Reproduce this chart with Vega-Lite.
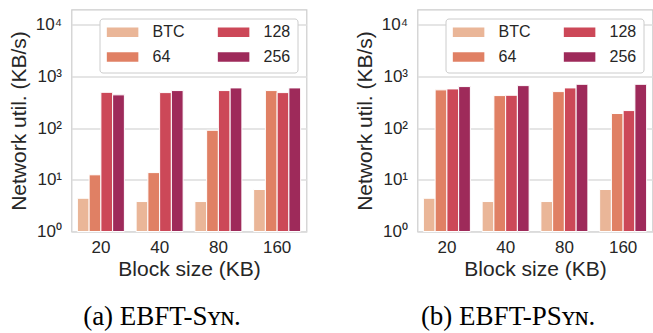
{
  "$schema": "https://vega.github.io/schema/vega-lite/v6.json",
  "padding": {"left": 7.5, "top": 8.5, "right": 0, "bottom": 0},
  "background": "white",
  "config": {
    "font": "Liberation Sans",
    "view": {"stroke": "#cccccc", "strokeWidth": 1.2},
    "axis": {
      "domain": false,
      "ticks": false,
      "labelFontSize": 17,
      "titleFontSize": 21,
      "titleFontWeight": "normal",
      "labelColor": "#262626",
      "titleColor": "#262626",
      "gridColor": "#dddddd",
      "gridWidth": 1.3
    },
    "axisX": {"labelPadding": 8, "titlePadding": 3, "grid": false, "labelAngle": 0},
    "axisY": {"labelPadding": 10, "titlePadding": 6},
    "legend": {"labelColor": "#262626", "labelFont": "Liberation Sans"}
  },
  "data": {
    "values": [
      {"panel": "a", "block": "20", "series": "BTC", "value": 4.4},
      {"panel": "a", "block": "20", "series": "64", "value": 12.5},
      {"panel": "a", "block": "20", "series": "128", "value": 494},
      {"panel": "a", "block": "20", "series": "256", "value": 441},
      {"panel": "a", "block": "40", "series": "BTC", "value": 3.8},
      {"panel": "a", "block": "40", "series": "64", "value": 13.8},
      {"panel": "a", "block": "40", "series": "128", "value": 488},
      {"panel": "a", "block": "40", "series": "256", "value": 534},
      {"panel": "a", "block": "80", "series": "BTC", "value": 3.8},
      {"panel": "a", "block": "80", "series": "64", "value": 91},
      {"panel": "a", "block": "80", "series": "128", "value": 534},
      {"panel": "a", "block": "80", "series": "256", "value": 601},
      {"panel": "a", "block": "160", "series": "BTC", "value": 6.5},
      {"panel": "a", "block": "160", "series": "64", "value": 534},
      {"panel": "a", "block": "160", "series": "128", "value": 488},
      {"panel": "a", "block": "160", "series": "256", "value": 601},
      {"panel": "b", "block": "20", "series": "BTC", "value": 4.4},
      {"panel": "b", "block": "20", "series": "64", "value": 551},
      {"panel": "b", "block": "20", "series": "128", "value": 575},
      {"panel": "b", "block": "20", "series": "256", "value": 638},
      {"panel": "b", "block": "40", "series": "BTC", "value": 3.8},
      {"panel": "b", "block": "40", "series": "64", "value": 427},
      {"panel": "b", "block": "40", "series": "128", "value": 433},
      {"panel": "b", "block": "40", "series": "256", "value": 666},
      {"panel": "b", "block": "80", "series": "BTC", "value": 3.8},
      {"panel": "b", "block": "80", "series": "64", "value": 510},
      {"panel": "b", "block": "80", "series": "128", "value": 601},
      {"panel": "b", "block": "80", "series": "256", "value": 706},
      {"panel": "b", "block": "160", "series": "BTC", "value": 6.5},
      {"panel": "b", "block": "160", "series": "64", "value": 192},
      {"panel": "b", "block": "160", "series": "128", "value": 219},
      {"panel": "b", "block": "160", "series": "256", "value": 706}
    ]
  },
  "spacing": 46,
  "resolve": {"scale": {"color": "independent"}, "legend": {"color": "independent"}},
  "hconcat": [
    {
      "width": 235,
      "height": 222,
      "transform": [{"filter": "datum.panel == 'a'"}],
      "title": {"text": "(a) EBFT-Sʏɴ.", "orient": "bottom", "anchor": "middle", "frame": "group", "dx": -27, "offset": 24, "font": "Liberation Serif", "fontSize": 27, "fontWeight": "normal", "color": "black"},
      "mark": {"type": "bar", "stroke": "white", "strokeWidth": 1},
      "encoding": {
        "x": {"field": "block", "type": "nominal", "sort": ["20", "40", "80", "160"], "scale": {"paddingInner": 0.2, "paddingOuter": 0.1}, "axis": {"title": "Block size (KB)"}},
        "xOffset": {"field": "series", "type": "nominal", "sort": ["BTC", "64", "128", "256"], "scale": {"paddingInner": 0, "paddingOuter": 0}},
        "y": {"field": "value", "type": "quantitative", "stack": null, "scale": {"type": "log", "domain": [1, 19800], "nice": false}, "axis": {"title": "Network util. (KB/s)", "values": [1, 10, 100, 1000, 10000], "labelExpr": "'10' + ['⁰','¹','²','³','⁴'][round(log(datum.value)/LN10)]"}},
        "y2": {"datum": 1},
        "color": {"field": "series", "type": "nominal", "sort": ["BTC", "64", "128", "256"], "scale": {"domain": ["BTC", "64", "128", "256"], "range": ["#eab698", "#e08064", "#cc4858", "#9e2a5a"]}, "legend": {"title": null, "orient": "top-right", "offset": 9, "columns": 2, "symbolType": "M-1,-0.3H1V0.3H-1Z", "symbolSize": 1005, "clipHeight": 13, "labelFontSize": 16, "labelOffset": 14, "columnPadding": 33, "rowPadding": 8, "padding": 7, "fillColor": "white", "strokeColor": "#cccccc", "cornerRadius": 3, "symbolStrokeWidth": 0}}
      }
    },
    {
      "width": 235,
      "height": 222,
      "transform": [{"filter": "datum.panel == 'b'"}],
      "title": {"text": "(b) EBFT-PSʏɴ.", "orient": "bottom", "anchor": "middle", "frame": "group", "dx": -27, "offset": 24, "font": "Liberation Serif", "fontSize": 27, "fontWeight": "normal", "color": "black"},
      "mark": {"type": "bar", "stroke": "white", "strokeWidth": 1},
      "encoding": {
        "x": {"field": "block", "type": "nominal", "sort": ["20", "40", "80", "160"], "scale": {"paddingInner": 0.2, "paddingOuter": 0.1}, "axis": {"title": "Block size (KB)"}},
        "xOffset": {"field": "series", "type": "nominal", "sort": ["BTC", "64", "128", "256"], "scale": {"paddingInner": 0, "paddingOuter": 0}},
        "y": {"field": "value", "type": "quantitative", "stack": null, "scale": {"type": "log", "domain": [1, 19800], "nice": false}, "axis": {"title": "Network util. (KB/s)", "values": [1, 10, 100, 1000, 10000], "labelExpr": "'10' + ['⁰','¹','²','³','⁴'][round(log(datum.value)/LN10)]"}},
        "y2": {"datum": 1},
        "color": {"field": "series", "type": "nominal", "sort": ["BTC", "64", "128", "256"], "scale": {"domain": ["BTC", "64", "128", "256"], "range": ["#eab698", "#e08064", "#cc4858", "#9e2a5a"]}, "legend": {"title": null, "orient": "top-right", "offset": 9, "columns": 2, "symbolType": "M-1,-0.3H1V0.3H-1Z", "symbolSize": 1005, "clipHeight": 13, "labelFontSize": 16, "labelOffset": 14, "columnPadding": 33, "rowPadding": 8, "padding": 7, "fillColor": "white", "strokeColor": "#cccccc", "cornerRadius": 3, "symbolStrokeWidth": 0}}
      }
    }
  ]
}
